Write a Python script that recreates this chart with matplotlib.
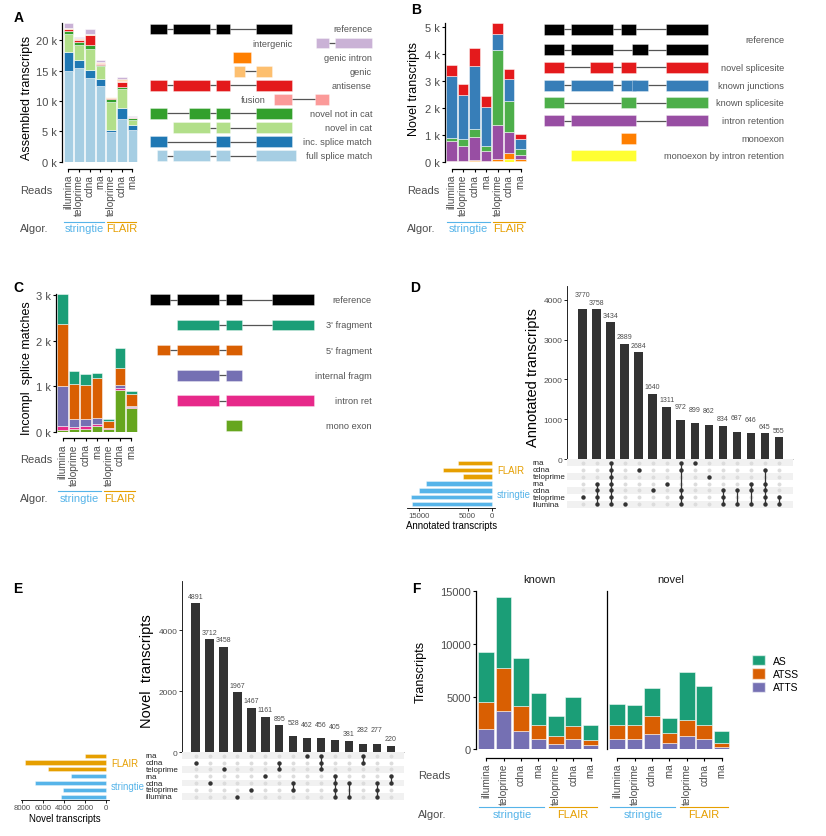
import numpy as np
import matplotlib
matplotlib.use('Agg')
import matplotlib.pyplot as plt
from matplotlib.patches import Rectangle, Patch
from matplotlib.transforms import blended_transform_factory as blend

plt.rcParams['font.family'] = ['Liberation Sans', 'DejaVu Sans']

# Shared sample labels
# --------------------
reads = ['illumina', 'teloprime', 'cdna', 'rna', 'teloprime', 'cdna', 'rna']
groups = [('stringtie', 0, 3), ('FLAIR', 4, 6)]
group_colors = {'stringtie': '#56B4E9', 'FLAIR': '#E69F00'}

# Panel A: SQANTI categories (thousands of transcripts)
# -----------------------------------------------------
a_fsm = [15.0, 15.4, 13.8, 12.4, 4.95, 7.0, 5.3]
a_ism = [3.0, 1.35, 1.3, 1.2, 0.25, 1.9, 0.75]
a_nic = [3.1, 2.45, 3.4, 2.1, 4.7, 3.0, 0.85]
a_nnc = [0.4, 0.5, 0.8, 0.3, 0.4, 0.35, 0.3]
a_antisense = [0.3, 0.4, 1.5, 0.15, 0.2, 0.85, 0.05]
a_fusion = [0.1, 0.1, 0.05, 0.1, 0.05, 0.15, 0.05]
a_genic = [0.1, 0.15, 0.2, 0.1, 0.05, 0.25, 0.05]
a_genic_intron = [0.05, 0.05, 0.05, 0.05, 0.02, 0.05, 0.02]
a_intergenic = [0.75, 0.1, 0.8, 0.3, 0.1, 0.45, 0.1]
a_colors = ['#a6cee3', '#1f78b4', '#b2df8a', '#33a02c', '#e31a1c',
            '#fb9a99', '#fdbf6f', '#ff7f00', '#cab2d6']

a_labels = ['reference', 'intergenic', 'genic intron', 'genic', 'antisense', 'fusion',
            'novel not in cat', 'novel in cat', 'inc. splice match', 'full splice match']
a_exons = [
    [(0, 17), (23, 60), (66, 80), (106, 142)],
    [(166, 179), (185, 222)],
    [(83, 101)],
    [(84, 95), (106, 122)],
    [(0, 17), (23, 60), (66, 80), (106, 142)],
    [(124, 142), (165, 179)],
    [(0, 17), (39, 60), (66, 80), (106, 142)],
    [(23, 60), (66, 80), (106, 142)],
    [(0, 17), (66, 80), (106, 142)],
    [(7, 17), (23, 60), (66, 80), (106, 146)],
]
a_gene_colors = ['black', '#cab2d6', '#ff7f00', '#fdbf6f', '#e31a1c', '#fb9a99',
                 '#33a02c', '#b2df8a', '#1f78b4', '#a6cee3']

# Panel B: novel transcript classes (thousands)
# ---------------------------------------------
b_mono_ir = [0.01, 0.01, 0.02, 0.01, 0.03, 0.10, 0.04]
b_mono = [0.02, 0.02, 0.04, 0.02, 0.07, 0.23, 0.06]
b_intron_ret = [0.75, 0.54, 0.84, 0.35, 1.27, 0.78, 0.15]
b_known_ss = [0.10, 0.27, 0.33, 0.20, 2.77, 1.14, 0.23]
b_known_junc = [2.28, 1.63, 2.30, 1.46, 0.58, 0.80, 0.35]
b_novel_ss = [0.41, 0.42, 0.68, 0.39, 0.42, 0.38, 0.19]
b_colors = ['#ffff33', '#ff7f00', '#984ea3', '#4daf4a', '#377eb8', '#e41a1c']

b_labels = ['reference', 'novel splicesite', 'known junctions', 'known splicesite',
            'intron retention', 'monoexon', 'monoexon by intron retention']
b_exons = [
    [(0, 20), (27, 69), (77, 92), (122, 164)],
    [(0, 20), (27, 69), (88, 104), (122, 164)],
    [(0, 20), (46, 69), (77, 92), (122, 164)],
    [(0, 20), (27, 69), (77, 92), (88, 104), (122, 164)],
    [(0, 20), (77, 92), (122, 164)],
    [(0, 20), (27, 92), (122, 164)],
    [(77, 92)],
    [(27, 92)],
]
b_gene_colors = ['black', 'black', '#e41a1c', '#377eb8', '#4daf4a', '#984ea3', '#ff7f00', '#ffff33']

# Panel C: incomplete splice matches (thousands)
# ----------------------------------------------
c_mono_exon = [0.04, 0.06, 0.06, 0.12, 0.07, 0.91, 0.51]
c_intron_ret = [0.09, 0.04, 0.06, 0.06, 0.01, 0.04, 0.04]
c_internal = [0.87, 0.18, 0.16, 0.11, 0.01, 0.07, 0.01]
c_five = [1.36, 0.77, 0.75, 0.88, 0.14, 0.37, 0.27]
c_three = [0.67, 0.28, 0.24, 0.11, 0.05, 0.45, 0.06]
c_colors = ['#66a61e', '#e7298a', '#7570b3', '#d95f02', '#1b9e77']

c_labels = ["reference", "3' fragment", "5' fragment", "internal fragm", "intron ret", "mono exon"]
c_exons = [
    [(0, 20), (27, 69), (76, 92), (122, 164)],
    [(27, 69), (76, 92), (122, 164)],
    [(7, 20), (27, 69), (76, 92)],
    [(27, 69), (76, 92)],
    [(27, 69), (76, 164)],
    [(76, 92)],
]
c_gene_colors = ['black', '#1b9e77', '#d95f02', '#7570b3', '#e7298a', '#66a61e']

# Panels D and E: upset plots
# ---------------------------
set_rows = ['rna', 'cdna', 'teloprime', 'rna', 'cdna', 'teloprime', 'illumina']
set_algor = ['FLAIR', 'FLAIR', 'FLAIR', 'stringtie', 'stringtie', 'stringtie', 'stringtie']

d_counts = [3770, 3758, 3434, 2889, 2684, 1640, 1311, 972, 899, 862, 834, 687, 646, 645, 555]
d_members = [[5], [3, 4, 5, 6], [0, 1, 2, 3, 4, 5, 6], [6], [1], [4], [3], [0, 1, 4, 5, 6],
             [0], [2], [4, 5, 6], [4, 6], [3, 4, 6], [1, 3, 4, 5, 6], [5, 6]]
d_set_sizes = [6900, 10100, 6000, 13500, 14900, 16500, 16300]

e_counts = [4891, 3712, 3458, 1967, 1467, 1161, 895, 528, 462, 456, 405, 381, 282, 277, 220]
e_members = [[1], [4], [2], [6], [5], [3], [1, 2], [4, 5], [0], [0, 1, 2], [3, 4, 5, 6],
             [4, 6], [0, 1], [4, 5, 6], [3, 4]]
e_set_sizes = [1960, 7650, 5500, 3300, 6700, 4050, 4240]

# Panel F: alternative events
# ---------------------------
f_classes = ['ATTS', 'ATSS', 'AS']
f_colors = ['#7570b3', '#d95f02', '#1b9e77']
f_atts_known = [1960, 3660, 1770, 950, 540, 1010, 440]
f_atss_known = [2540, 4040, 2300, 1350, 720, 1230, 440]
f_as_known = [4750, 6700, 4610, 3000, 1900, 2720, 1390]
f_atts_novel = [950, 950, 1420, 630, 1290, 1010, 250]
f_atss_novel = [1390, 1320, 1740, 920, 1460, 1260, 350]
f_as_novel = [1920, 1960, 2650, 1390, 4580, 3730, 1100]

# Figure and pixel helpers
# ------------------------
W, H = 826, 837
GREY = '#4d4d4d'
fig = plt.figure(figsize=(W / 100, H / 100), dpi=100)


def axes_px(x0, y0, x1, y1):
    return fig.add_axes([x0 / W, 1 - y1 / H, (x1 - x0) / W, (y1 - y0) / H])


def fig_text(x, y, s, **kw):
    return fig.text(x / W, 1 - y / H, s, **kw)


def stacked_panel(box, layers, colors, yticks, ylabels, line_px):
    ax = axes_px(*box)
    x = np.arange(len(reads))
    bottom = np.zeros(len(reads))
    for vals, col in zip(layers, colors):
        ax.bar(x, vals, 0.9, bottom=bottom, color=col, edgecolor=(1, 1, 1, 0.7), linewidth=0.5)
        bottom += np.array(vals)
    ax.set_xlim(-0.6, 6.6)
    ax.set_ylim(0, bottom.max())
    for s in ['top', 'right']:
        ax.spines[s].set_visible(False)
    ax.spines['left'].set_linewidth(0.9)
    ax.spines['bottom'].set_linewidth(0.9)
    ax.spines['bottom'].set_position(('outward', line_px * 0.72))
    ax.spines['bottom'].set_bounds(0, 6)
    ax.set_xticks(x)
    ax.set_xticklabels(reads, rotation=90, fontsize=7.3, color=GREY)
    ax.tick_params(axis='x', length=2.2, width=0.8, pad=1.2)
    if yticks is None:
        ax.set_yticks([])
    else:
        ax.set_yticks(yticks)
        ax.set_yticklabels(ylabels, fontsize=8, color=GREY)
        ax.tick_params(axis='y', length=2.2, width=0.8, pad=1.2)
    ax.set_facecolor('none')
    return ax


def group_marks(ax, line_y, text_y):
    tr = blend(ax.transData, fig.transFigure)
    for name, i0, i1 in groups:
        col = group_colors[name]
        ax.plot([i0 - 0.4, i1 + 0.35], [1 - line_y / H] * 2, transform=tr,
                color=col, lw=0.8, clip_on=False)
        ax.text((i0 + i1) / 2, 1 - text_y / H, name, transform=tr, ha='center',
                va='center', color=col, fontsize=8)


def row_titles(x, reads_y, algor_y):
    fig_text(x, reads_y, 'Reads', ha='left', va='center', fontsize=8, color=GREY)
    fig_text(x, algor_y, 'Algor.', ha='left', va='center', fontsize=8, color=GREY)


def schematic(box, x_ref, y_ref, exon_sets, colors, rows, labels, label_x, label_y, h):
    ax = axes_px(*box)
    ax.set_xlim(box[0] - x_ref, box[2] - x_ref)
    ax.set_ylim(box[3] - y_ref, box[1] - y_ref)
    ax.axis('off')
    for exons, col, y in zip(exon_sets, colors, rows):
        for (s0, e0), (s1, e1) in zip(exons[:-1], exons[1:]):
            if s1 > e0:
                ax.plot([e0, s1], [y, y], color='#555555', lw=0.9, zorder=1)
        for s, e in exons:
            ax.add_patch(Rectangle((s, y - h / 2), e - s, h, facecolor=col,
                                   edgecolor=(1, 1, 1, 0.6), lw=0.4, zorder=2))
    for lab, lx, ly in zip(labels, label_x, label_y):
        ax.text(lx, ly, lab, ha='right', va='center', fontsize=6.7, color='#555555')
    return ax


# Panel A
# -------
ax_a = stacked_panel((62, 24.3, 138.8, 162.7),
                     [a_fsm, a_ism, a_nic, a_nnc, a_antisense, a_fusion, a_genic,
                      a_genic_intron, a_intergenic],
                     a_colors, [0, 5, 10, 15, 20], [f'{v} k' for v in [0, 5, 10, 15, 20]], 7.3)
group_marks(ax_a, 222.7, 229.3)
row_titles(20, 191, 229.3)
fig_text(27, 98, 'Assembled transcripts', rotation=90, ha='center', va='center', fontsize=9)
fig_text(18.5, 17.5, 'A', ha='center', va='center', fontsize=10, fontweight='bold')

a_rows = [14.08 * i for i in range(len(a_labels))]
a_label_x = [222, 143, 222, 222, 222, 116, 222, 222, 222, 222]
schematic((140, 18, 380, 168), 150, 30, a_exons, a_gene_colors, a_rows,
          a_labels, a_label_x, a_rows, 10.7)

# Panel B
# -------
ax_b = stacked_panel((444.7, 24, 527.5, 162.7),
                     [b_mono_ir, b_mono, b_intron_ret, b_known_ss, b_known_junc, b_novel_ss],
                     b_colors, [0, 1, 2, 3, 4, 5], [f'{v} k' for v in range(6)], 7.3)
group_marks(ax_b, 222.7, 229.3)
row_titles(407, 191, 229.3)
fig_text(414, 89, 'Novel transcripts', rotation=90, ha='center', va='center', fontsize=9)
fig_text(416, 10, 'B', ha='center', va='center', fontsize=10, fontweight='bold')

b_rows = [0, 20.7] + [20.7 + 17.7 * k for k in range(1, 7)]
b_label_y = [10.35] + b_rows[2:]
schematic((535, 18, 790, 168), 544.3, 30, b_exons, b_gene_colors, b_rows,
          b_labels, [239.7] * len(b_labels), b_label_y, 11)

# Panel C
# -------
ax_c = stacked_panel((55.7, 294.7, 138.3, 432.7),
                     [c_mono_exon, c_intron_ret, c_internal, c_five, c_three],
                     c_colors, [0, 1, 2, 3], [f'{v} k' for v in range(4)], 6.6)
group_marks(ax_c, 491.7, 499.3)
row_titles(20, 460, 499.3)
fig_text(27, 368, 'Incompl  splice matches', rotation=90, ha='center', va='center', fontsize=9)
fig_text(18, 288, 'C', ha='center', va='center', fontsize=10, fontweight='bold')

c_rows = [25.2 * i for i in range(len(c_labels))]
schematic((140, 288, 380, 438), 150, 300.7, c_exons, c_gene_colors, c_rows,
          c_labels, [221.7] * len(c_labels), c_rows, 10.7)


# Upset panels
# ------------
def upset(bar_box, mat_box, size_box, counts, members, sizes, xlim, ymax, yticks,
          size_xlim, size_ticks, size_xlabel, group_x, label_x):
    x = np.arange(1, len(counts) + 1)
    ax = axes_px(*bar_box)
    ax.bar(x, counts, 0.6, color='#333333')
    ax.set_xlim(*xlim)
    ax.set_ylim(0, ymax)
    for s in ['top', 'right']:
        ax.spines[s].set_visible(False)
    ax.spines['left'].set_linewidth(0.6)
    ax.spines['bottom'].set_linewidth(0.6)
    ax.spines['bottom'].set_color('#bbbbbb')
    ax.set_xticks([])
    ax.set_yticks(yticks)
    ax.tick_params(axis='y', labelsize=6, labelcolor=GREY, length=2, width=0.6, pad=1)
    top = max(counts)
    for i, v in enumerate(counts):
        bump = 0
        if i + 1 < len(counts) and abs(v - counts[i + 1]) < 0.02 * top:
            bump = 5
        ax.annotate(str(v), (x[i], v), xytext=(0, 2.5 + bump), textcoords='offset points',
                    ha='center', va='bottom', fontsize=5, color=GREY)

    mx = axes_px(*mat_box)
    n = len(set_rows)
    for r in range(0, n, 2):
        mx.axhspan(r - 0.5, r + 0.5, color='#f1f1f1', lw=0, zorder=0)
    for xi, mem in zip(x, members):
        mx.scatter([xi] * n, range(n), s=8, color='#dcdcdc', lw=0, zorder=2)
        mx.scatter([xi] * len(mem), mem, s=10, color='#333333', lw=0, zorder=3)
        if len(mem) > 1:
            mx.plot([xi, xi], [min(mem), max(mem)], color='#333333', lw=0.9, zorder=3)
    mx.set_xlim(*xlim)
    mx.set_ylim(n - 0.5, -0.5)
    mx.set_xticks([])
    mx.set_yticks([])
    for s in mx.spines.values():
        s.set_visible(False)
    tr_rows = blend(fig.transFigure, mx.transData)
    for r, name in enumerate(set_rows):
        mx.text(label_x / W, r, name, transform=tr_rows, ha='left', va='center',
                fontsize=5.8, color='#222222')

    sx = axes_px(*size_box)
    sx.barh(range(n), sizes, 0.6, color=[group_colors[g] for g in set_algor],
            edgecolor=(1, 1, 1, 0.6), lw=0.4)
    sx.set_xlim(*size_xlim)
    sx.set_ylim(n - 0.5, -0.5)
    sx.set_yticks([])
    sx.set_xticks(size_ticks)
    sx.tick_params(axis='x', labelsize=5.6, labelcolor=GREY, length=2, width=0.6, pad=1)
    for s in ['top', 'left', 'right']:
        sx.spines[s].set_visible(False)
    sx.spines['bottom'].set_linewidth(0.6)
    sx.set_xlabel(size_xlabel, fontsize=6.9, labelpad=1)
    tr = blend(fig.transFigure, sx.transData)
    sx.text(group_x / W, 1, 'FLAIR', transform=tr, color=group_colors['FLAIR'],
            fontsize=6.9, ha='left', va='center')
    sx.text(group_x / W, 4.5, 'stringtie', transform=tr, color=group_colors['stringtie'],
            fontsize=6.9, ha='left', va='center')


upset((566.7, 286.7, 793.3, 460.2), (566.7, 460.2, 793.3, 508.8), (407.3, 460.2, 495, 508.8),
      d_counts, d_members, d_set_sizes, (-0.14, 16.04), 4350, [0, 1000, 2000, 3000, 4000],
      (17300, -600), [15000, 5000, 0], 'Annotated transcripts', 497, 532.7)
fig_text(533, 378, 'Annotated transcripts', rotation=90, ha='center', va='center', fontsize=10.5)
fig_text(415, 288, 'D', ha='center', va='center', fontsize=10, fontweight='bold')

upset((181.7, 581.7, 404, 753.3), (181.7, 753.3, 404, 801.1), (20.7, 753.3, 109.3, 801.1),
      e_counts, e_members, e_set_sizes, (0, 15.95), 5630, [0, 2000, 4000],
      (8100, -320), [8000, 6000, 4000, 2000, 0], 'Novel transcripts', 111, 146)
fig_text(147, 671, 'Novel  transcripts', rotation=90, ha='center', va='center', fontsize=10.5)
fig_text(17.5, 589, 'E', ha='center', va='center', fontsize=10, fontweight='bold')

# Panel F
# -------
f_sets = [('known', [f_atts_known, f_atss_known, f_as_known], (475.7, 592, 601, 750.3)),
          ('novel', [f_atts_novel, f_atss_novel, f_as_novel], (606.7, 592, 732, 750.3))]
for k, (title, layers, box) in enumerate(f_sets):
    if k == 0:
        ax = stacked_panel(box, layers, f_colors, [0, 5000, 10000, 15000],
                           ['0', '5000', '10000', '15000'], 8.7)
    else:
        ax = stacked_panel(box, layers, f_colors, None, None, 8.7)
    ax.set_ylim(0, 15000)
    group_marks(ax, 807.7, 815)
    fig_text((box[0] + box[2]) / 2 + 1, 580, title, ha='center', va='center', fontsize=8,
             color='#1a1a1a')
row_titles(418, 776, 815)
fig_text(421, 672, 'Transcripts', rotation=90, ha='center', va='center', fontsize=9)
fig_text(416.5, 589, 'F', ha='center', va='center', fontsize=10, fontweight='bold')

handles = [Patch(facecolor=c, edgecolor=(1, 1, 1, 0.6), label=l)
           for l, c in zip(f_classes[::-1], f_colors[::-1])]
fig.legend(handles=handles, loc='upper left', bbox_to_anchor=(752.3 / W, 1 - 655.7 / H),
           frameon=False, fontsize=7.5, handlelength=1.2, handleheight=1.2,
           labelspacing=0.25, handletextpad=0.75, borderpad=0, borderaxespad=0)

fig.savefig('out.png', dpi=100, facecolor='white')
